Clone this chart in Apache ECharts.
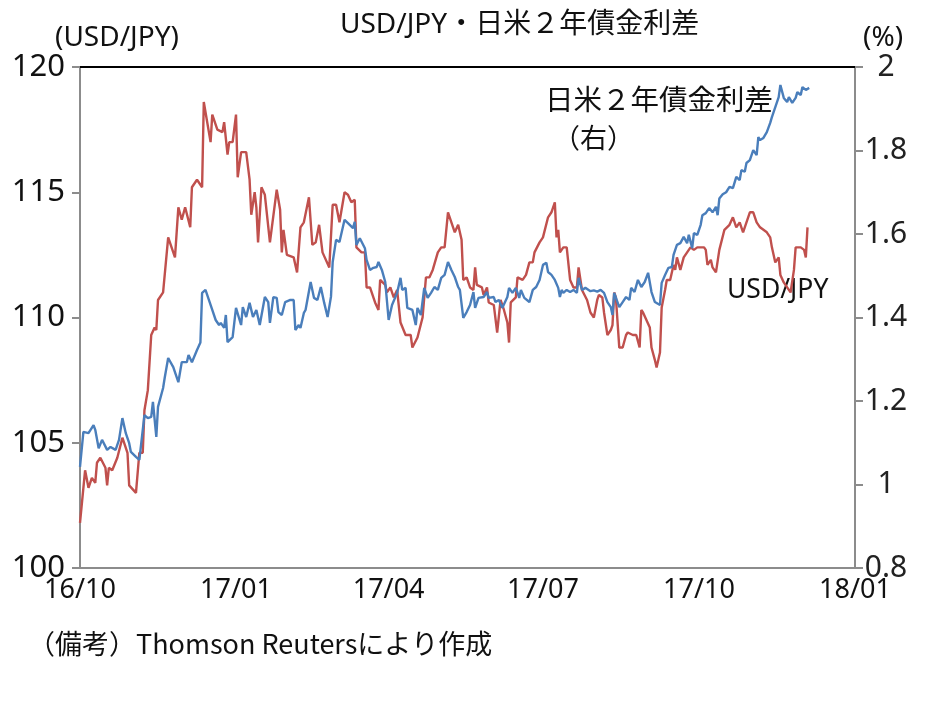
<!DOCTYPE html>
<html><head><meta charset="utf-8">
<script src="https://cdn.jsdelivr.net/npm/echarts@6/dist/echarts.min.js"></script>
<style>html,body{margin:0;padding:0;background:#fff}#c{width:934px;height:701px}</style>
</head><body><div id="c"></div>
<script>
// USD/JPY (left axis)
const jpyDates = ['2016-10-01','2016-10-04','2016-10-06','2016-10-08','2016-10-10','2016-10-11','2016-10-13','2016-10-16','2016-10-17','2016-10-18','2016-10-20','2016-10-23','2016-10-26','2016-10-29','2016-10-30','2016-11-03','2016-11-05','2016-11-07','2016-11-08','2016-11-10','2016-11-12','2016-11-14','2016-11-15','2016-11-16','2016-11-19','2016-11-22','2016-11-26','2016-11-28','2016-11-30','2016-12-02','2016-12-05','2016-12-06','2016-12-09','2016-12-12','2016-12-13','2016-12-17','2016-12-18','2016-12-21','2016-12-24','2016-12-25','2016-12-27','2016-12-28','2016-12-30','2017-01-01','2017-01-02','2017-01-04','2017-01-07','2017-01-09','2017-01-10','2017-01-12','2017-01-13','2017-01-14','2017-01-16','2017-01-18','2017-01-21','2017-01-25','2017-01-27','2017-01-28','2017-01-29','2017-01-31','2017-02-04','2017-02-06','2017-02-08','2017-02-10','2017-02-13','2017-02-15','2017-02-17','2017-02-19','2017-02-21','2017-02-25','2017-02-27','2017-03-01','2017-03-03','2017-03-06','2017-03-08','2017-03-10','2017-03-12','2017-03-13','2017-03-16','2017-03-18','2017-03-19','2017-03-21','2017-03-24','2017-03-26','2017-03-27','2017-03-30','2017-03-31','2017-04-02','2017-04-04','2017-04-06','2017-04-08','2017-04-11','2017-04-14','2017-04-15','2017-04-18','2017-04-21','2017-04-23','2017-04-25','2017-04-27','2017-04-30','2017-05-02','2017-05-04','2017-05-06','2017-05-08','2017-05-10','2017-05-12','2017-05-14','2017-05-15','2017-05-17','2017-05-19','2017-05-21','2017-05-22','2017-05-23','2017-05-26','2017-05-27','2017-05-29','2017-05-30','2017-06-02','2017-06-04','2017-06-06','2017-06-08','2017-06-10','2017-06-11','2017-06-12','2017-06-15','2017-06-16','2017-06-19','2017-06-21','2017-06-23','2017-06-25','2017-06-26','2017-06-29','2017-07-01','2017-07-04','2017-07-06','2017-07-08','2017-07-09','2017-07-10','2017-07-11','2017-07-13','2017-07-15','2017-07-17','2017-07-19','2017-07-21','2017-07-22','2017-07-24','2017-07-27','2017-07-29','2017-07-31','2017-08-02','2017-08-03','2017-08-05','2017-08-06','2017-08-08','2017-08-10','2017-08-11','2017-08-12','2017-08-13','2017-08-15','2017-08-17','2017-08-19','2017-08-20','2017-08-23','2017-08-25','2017-08-27','2017-08-28','2017-08-29','2017-08-31','2017-09-02','2017-09-03','2017-09-05','2017-09-06','2017-09-08','2017-09-09','2017-09-11','2017-09-12','2017-09-14','2017-09-16','2017-09-17','2017-09-18','2017-09-20','2017-09-22','2017-09-24','2017-09-26','2017-09-28','2017-09-30','2017-10-02','2017-10-04','2017-10-05','2017-10-06','2017-10-08','2017-10-09','2017-10-11','2017-10-13','2017-10-16','2017-10-19','2017-10-21','2017-10-23','2017-10-25','2017-10-27','2017-10-29','2017-10-31','2017-11-02','2017-11-04','2017-11-06','2017-11-08','2017-11-10','2017-11-12','2017-11-13','2017-11-15','2017-11-17','2017-11-18','2017-11-20','2017-11-22','2017-11-24','2017-11-26','2017-11-27','2017-11-30','2017-12-02','2017-12-03','2017-12-04'];
const jpyValues = [101.8,103.9,103.2,103.6,103.4,104.2,104.4,104.0,103.3,104.0,103.9,104.4,105.2,104.6,103.3,103.0,104.6,104.6,106.3,107.1,109.3,109.6,109.5,110.7,111.0,113.2,112.4,114.4,113.9,114.4,113.6,115.2,115.5,115.2,118.6,117.0,118.1,117.5,117.4,117.8,116.5,117.0,117.0,118.1,115.6,116.6,116.6,115.5,114.1,115.0,114.4,113.0,115.2,114.9,113.0,115.1,114.3,112.6,113.5,112.5,112.4,111.8,113.6,113.8,114.8,112.9,113.0,113.7,112.6,112.0,114.5,114.5,113.8,115.0,114.9,114.6,114.7,112.8,112.6,112.6,111.2,111.2,110.6,110.3,111.5,111.3,111.0,111.2,110.8,111.1,109.8,109.3,109.3,108.8,109.2,110.0,111.6,111.6,111.9,112.6,112.8,112.8,114.2,113.8,113.4,113.7,113.1,111.5,111.6,111.2,111.1,112.0,111.3,111.2,110.9,111.2,110.6,110.5,109.4,110.7,110.3,109.8,109.0,110.6,110.8,111.6,111.5,111.7,112.2,112.2,112.6,113.0,113.2,114.0,114.2,114.6,113.2,113.5,112.6,112.8,112.8,111.5,111.2,111.2,112.0,111.1,110.7,110.2,110.0,110.7,110.9,110.8,110.2,109.3,109.5,109.7,111.0,110.8,108.8,108.8,109.3,109.4,109.3,109.3,108.8,110.3,110.2,109.9,109.6,108.8,108.3,108.0,108.6,110.4,111.1,111.5,111.5,112.1,111.9,112.4,111.9,112.4,112.6,112.8,112.7,112.8,112.8,112.8,112.7,112.1,112.3,112.0,111.8,112.7,113.5,113.7,114.0,113.6,113.8,113.4,113.8,114.2,114.2,113.8,113.6,113.5,113.4,113.2,112.8,112.2,112.4,111.7,111.4,111.2,111.0,111.9,112.8,112.8,112.7,112.4,113.6];

// Japan-US 2-year yield spread (right axis, %)
const spreadDates = ['2016-10-01','2016-10-03','2016-10-06','2016-10-09','2016-10-10','2016-10-12','2016-10-14','2016-10-17','2016-10-19','2016-10-22','2016-10-24','2016-10-26','2016-10-28','2016-10-30','2016-10-31','2016-11-03','2016-11-05','2016-11-08','2016-11-10','2016-11-12','2016-11-13','2016-11-15','2016-11-16','2016-11-19','2016-11-20','2016-11-22','2016-11-25','2016-11-28','2016-11-30','2016-12-03','2016-12-04','2016-12-06','2016-12-09','2016-12-11','2016-12-12','2016-12-14','2016-12-18','2016-12-20','2016-12-22','2016-12-23','2016-12-25','2016-12-26','2016-12-27','2016-12-30','2017-01-01','2017-01-04','2017-01-05','2017-01-07','2017-01-09','2017-01-11','2017-01-13','2017-01-15','2017-01-18','2017-01-20','2017-01-21','2017-01-23','2017-01-25','2017-01-26','2017-01-28','2017-01-30','2017-02-02','2017-02-04','2017-02-05','2017-02-07','2017-02-08','2017-02-10','2017-02-11','2017-02-14','2017-02-16','2017-02-18','2017-02-20','2017-02-22','2017-02-24','2017-02-26','2017-02-27','2017-03-01','2017-03-03','2017-03-06','2017-03-08','2017-03-11','2017-03-12','2017-03-13','2017-03-15','2017-03-18','2017-03-19','2017-03-21','2017-03-23','2017-03-25','2017-03-26','2017-03-28','2017-03-30','2017-04-01','2017-04-03','2017-04-06','2017-04-08','2017-04-09','2017-04-11','2017-04-12','2017-04-15','2017-04-17','2017-04-18','2017-04-20','2017-04-22','2017-04-24','2017-04-26','2017-04-28','2017-04-30','2017-05-02','2017-05-04','2017-05-06','2017-05-08','2017-05-10','2017-05-12','2017-05-13','2017-05-15','2017-05-17','2017-05-19','2017-05-21','2017-05-22','2017-05-24','2017-05-27','2017-05-29','2017-05-30','2017-06-02','2017-06-03','2017-06-05','2017-06-07','2017-06-10','2017-06-11','2017-06-13','2017-06-15','2017-06-17','2017-06-18','2017-06-20','2017-06-23','2017-06-25','2017-06-27','2017-06-29','2017-07-01','2017-07-03','2017-07-04','2017-07-06','2017-07-08','2017-07-10','2017-07-11','2017-07-12','2017-07-13','2017-07-15','2017-07-17','2017-07-19','2017-07-21','2017-07-22','2017-07-24','2017-07-26','2017-07-29','2017-07-31','2017-08-02','2017-08-04','2017-08-06','2017-08-08','2017-08-10','2017-08-11','2017-08-12','2017-08-15','2017-08-17','2017-08-19','2017-08-21','2017-08-22','2017-08-24','2017-08-26','2017-08-28','2017-08-30','2017-09-01','2017-09-03','2017-09-05','2017-09-08','2017-09-09','2017-09-11','2017-09-13','2017-09-15','2017-09-16','2017-09-18','2017-09-20','2017-09-22','2017-09-24','2017-09-25','2017-09-27','2017-09-28','2017-09-30','2017-10-02','2017-10-03','2017-10-05','2017-10-07','2017-10-09','2017-10-11','2017-10-12','2017-10-13','2017-10-15','2017-10-17','2017-10-19','2017-10-21','2017-10-23','2017-10-25','2017-10-26','2017-10-28','2017-10-29','2017-10-31','2017-11-02','2017-11-04','2017-11-05','2017-11-06','2017-11-08','2017-11-10','2017-11-12','2017-11-13','2017-11-15','2017-11-17','2017-11-18','2017-11-20','2017-11-22','2017-11-23','2017-11-25','2017-11-27','2017-11-28','2017-11-30','2017-12-01','2017-12-03','2017-12-05'];
const spreadValues = [1.042,1.126,1.123,1.142,1.131,1.087,1.107,1.083,1.090,1.083,1.107,1.159,1.123,1.099,1.078,1.066,1.059,1.166,1.159,1.162,1.198,1.114,1.186,1.231,1.257,1.303,1.281,1.245,1.293,1.293,1.310,1.293,1.322,1.340,1.459,1.466,1.418,1.394,1.382,1.387,1.375,1.406,1.341,1.353,1.423,1.382,1.425,1.401,1.435,1.401,1.418,1.382,1.449,1.437,1.387,1.449,1.447,1.413,1.406,1.437,1.442,1.442,1.370,1.382,1.375,1.411,1.418,1.485,1.447,1.442,1.473,1.435,1.401,1.450,1.533,1.586,1.581,1.634,1.626,1.614,1.629,1.574,1.590,1.566,1.538,1.514,1.519,1.521,1.533,1.514,1.485,1.394,1.430,1.459,1.495,1.466,1.471,1.423,1.418,1.382,1.423,1.406,1.471,1.447,1.459,1.473,1.466,1.495,1.502,1.533,1.514,1.497,1.473,1.466,1.399,1.413,1.430,1.461,1.423,1.447,1.449,1.461,1.447,1.449,1.437,1.442,1.423,1.449,1.471,1.459,1.471,1.447,1.466,1.447,1.437,1.466,1.473,1.490,1.526,1.531,1.509,1.502,1.490,1.471,1.449,1.466,1.459,1.466,1.461,1.466,1.459,1.495,1.466,1.471,1.463,1.465,1.462,1.466,1.459,1.437,1.425,1.406,1.459,1.425,1.437,1.449,1.442,1.471,1.461,1.490,1.473,1.485,1.507,1.461,1.437,1.430,1.483,1.502,1.519,1.521,1.550,1.574,1.578,1.593,1.578,1.598,1.566,1.602,1.598,1.622,1.645,1.650,1.662,1.652,1.665,1.645,1.685,1.695,1.700,1.713,1.710,1.737,1.729,1.753,1.749,1.770,1.777,1.801,1.789,1.832,1.825,1.830,1.844,1.866,1.880,1.904,1.928,1.957,1.926,1.916,1.928,1.914,1.926,1.940,1.933,1.952,1.945,1.950];

const xTickDates = ['2016-10-01','2017-01-01','2017-04-01','2017-07-01','2017-10-01','2018-01-01'];
const leftTicks = [100, 105, 110, 115, 120];
const rightTicks = [0.8, 1.0, 1.2, 1.4, 1.6, 1.8, 2.0];

const titleText = 'USD/JPY・日米２年債金利差';
const leftUnit = '(USD/JPY)';
const rightUnit = '(%)';
const spreadLabel1 = '日米２年債金利差';
const spreadLabel2 = '（右）';
const jpyLabel = 'USD/JPY';
const noteText = '（備考）Thomson Reutersにより作成';

function ts(s){ const p = s.split('-').map(Number); return Date.UTC(p[0], p[1]-1, p[2]); }
const LATIN = "'Noto Sans','Noto Sans CJK JP',sans-serif";
const CJK = "'Noto Sans CJK JP',sans-serif";
const xMin = ts(xTickDates[0]), xMax = ts(xTickDates[xTickDates.length-1]);
function fmtDate(v){ const d=new Date(v); const y=String(d.getUTCFullYear()).slice(2); const m=String(d.getUTCMonth()+1).padStart(2,'0'); return y+'/'+m; }

const chart = echarts.init(document.getElementById('c'), null, {renderer:'canvas'});
chart.setOption({
  animation:false,
  backgroundColor:'#ffffff',
  grid:{left:80, right:79, top:67, bottom:133},
  xAxis:[{
    type:'value', min:xMin, max:xMax, scale:true,
    axisLine:{show:true, onZero:false, lineStyle:{color:'#8c8c8c', width:2}},
    axisTick:{show:false}, splitLine:{show:false},
    axisLabel:{
      customValues: xTickDates.map(ts),
      fontSize:27, fontFamily:LATIN, color:'#111', margin:9,
      formatter:fmtDate
    }
  },{
    type:'value', position:'top', min:xMin, max:xMax, scale:true,
    axisLine:{show:true, onZero:false, lineStyle:{color:'#000', width:2}},
    axisTick:{show:false}, axisLabel:{show:false}, splitLine:{show:false}
  }],
  yAxis:[{
    type:'value', min:leftTicks[0], max:leftTicks[leftTicks.length-1], interval:5,
    axisLine:{show:true, onZero:false, lineStyle:{color:'#8c8c8c', width:2}},
    axisTick:{show:true, inside:false, length:8, lineStyle:{color:'#8c8c8c', width:2}},
    splitLine:{show:false},
    axisLabel:{fontSize:31, fontFamily:LATIN, color:'#111', margin:15}
  },{
    type:'value', position:'right', min:rightTicks[0], max:rightTicks[rightTicks.length-1], interval:0.2,
    axisLine:{show:true, onZero:false, lineStyle:{color:'#8c8c8c', width:2}},
    axisTick:{show:true, inside:false, length:8, lineStyle:{color:'#8c8c8c', width:2}},
    splitLine:{show:false},
    axisLabel:{fontSize:30, fontFamily:LATIN, color:'#222', margin:31, align:'center',
      formatter:function(v){ return String(+(+v).toFixed(1)); }}
  }],
  series:[{
    name:jpyLabel, type:'line', xAxisIndex:0, yAxisIndex:0, showSymbol:false, symbol:'none',
    lineStyle:{color:'#C0504D', width:2.4}, itemStyle:{color:'#C0504D'},
    data: jpyDates.map((d,i)=>[ts(d), jpyValues[i]])
  },{
    name:spreadLabel1, type:'line', xAxisIndex:0, yAxisIndex:1, showSymbol:false, symbol:'none',
    lineStyle:{color:'#4A7EBB', width:2.4}, itemStyle:{color:'#4A7EBB'},
    data: spreadDates.map((d,i)=>[ts(d), spreadValues[i]])
  }],
  graphic:[
    {type:'text', left:340, top:11, style:{text:titleText, font:"28px "+LATIN, fill:'#111'}},
    {type:'text', left:55, top:24, style:{text:leftUnit, font:"28px "+LATIN, fill:'#111'}},
    {type:'text', left:863, top:24, style:{text:rightUnit, font:"28px "+LATIN, fill:'#111'}},
    {type:'text', left:545, top:85, style:{text:spreadLabel1, font:"28.5px "+CJK, fill:'#111'}},
    {type:'text', left:553, top:124, style:{text:spreadLabel2, font:"27px "+CJK, fill:'#111'}},
    {type:'text', left:727, top:277, style:{text:jpyLabel, font:"26.5px "+LATIN, fill:'#111'}},
    {type:'text', left:28, top:630, style:{text:noteText, font:"27px "+CJK, fill:'#111'}}
  ]
});
</script></body></html>
